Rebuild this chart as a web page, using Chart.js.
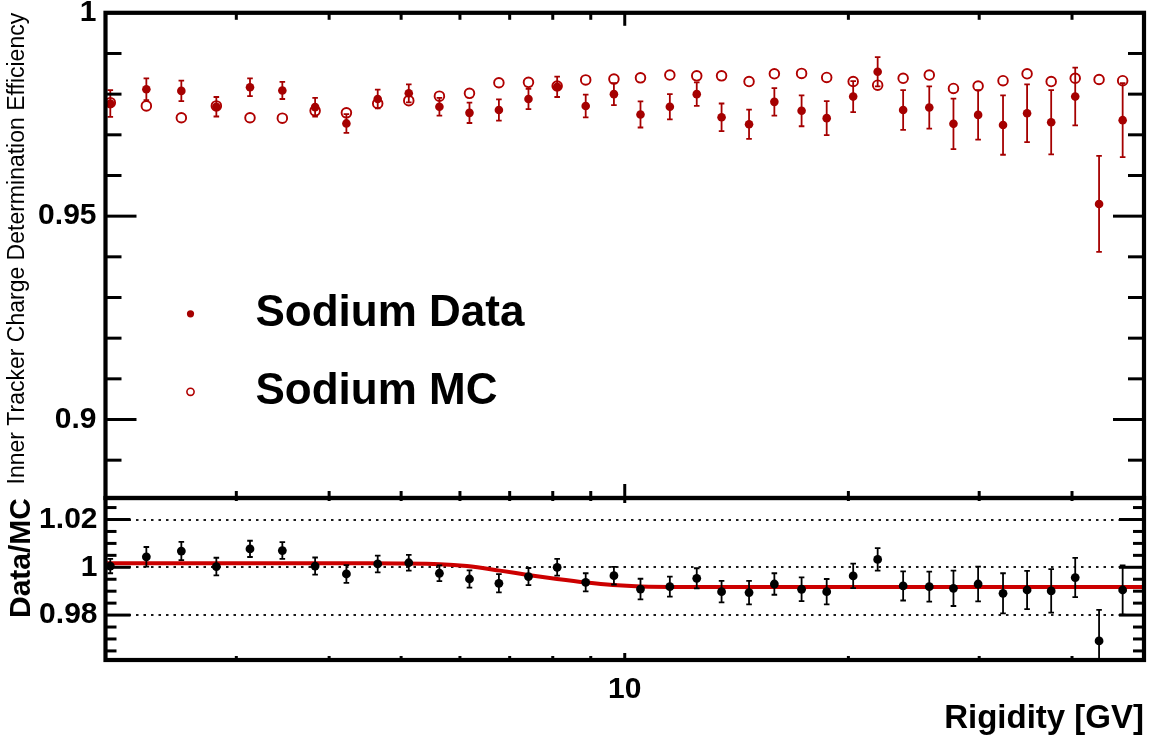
<!DOCTYPE html>
<html>
<head>
<meta charset="utf-8">
<title>Inner Tracker Charge Determination Efficiency</title>
<script src="https://cdn.jsdelivr.net/npm/chart.js@4.4.1/dist/chart.umd.min.js"></script>
<style>
  html, body { margin: 0; padding: 0; background: #fff; }
  #wrap { position: relative; width: 1151px; height: 742px; }
  #wrap canvas { position: absolute; left: 0; top: 0; }
</style>
</head>
<body>
<div id="wrap">
  <canvas id="ratioChart" width="1151" height="742"></canvas>
  <canvas id="effChart" width="1151" height="742"></canvas>
</div>
<script>
// Rigidity bin centres [GV]
const rigidity = [2.03, 2.27, 2.53, 2.82, 3.13, 3.46, 3.83, 4.22, 4.65, 5.12,
  5.63, 6.18, 6.77, 7.42, 8.11, 8.86, 9.67, 10.5, 11.5, 12.5,
  13.5, 14.7, 15.9, 17.3, 18.7, 20.3, 21.9, 23.7, 25.7, 27.7,
  29.9, 32.3, 34.8, 37.5, 40.4, 43.5, 46.8];

// Sodium data efficiency and its uncertainty
const dataEff = [0.9777, 0.9812, 0.9808, 0.9769, 0.9817, 0.9809, 0.9768, 0.9728, 0.9788, 0.9802,
  0.9769, 0.9754, 0.9761, 0.9788, 0.9818, 0.9771, 0.9800, 0.9750, 0.9769, 0.9800,
  0.9743, 0.9726, 0.9781, 0.9759, 0.9741, 0.9794, 0.9855, 0.9761, 0.9767, 0.9727,
  0.9749, 0.9724, 0.9753, 0.9731, 0.9794, 0.9530, 0.9736];
const dataErr = [0.0033, 0.0027, 0.0025, 0.0024, 0.0022, 0.0021, 0.0023, 0.0023, 0.0023, 0.0022,
  0.0022, 0.0025, 0.0026, 0.0025, 0.0025, 0.0028, 0.0027, 0.0032, 0.0031, 0.0029,
  0.0034, 0.0036, 0.0034, 0.0038, 0.0042, 0.0038, 0.0036, 0.0049, 0.0052, 0.0062,
  0.0061, 0.0073, 0.0071, 0.0079, 0.0071, 0.0118, 0.0091];

// Sodium MC efficiency
const mcEff = [0.9779, 0.9771, 0.9742, 0.9771, 0.9742, 0.9741, 0.9759, 0.9754, 0.9777, 0.9784,
  0.9795, 0.9802, 0.9828, 0.9829, 0.9820, 0.9835, 0.9837, 0.9840, 0.9847, 0.9845,
  0.9845, 0.9831, 0.9850, 0.9851, 0.9841, 0.9831, 0.9822, 0.9839, 0.9847, 0.9814,
  0.9820, 0.9833, 0.9850, 0.9831, 0.9839, 0.9836, 0.9833];

// Data/MC ratio and its uncertainty
const ratio = [1.0005, 1.0044, 1.0068, 1.0003, 1.0077, 1.0070, 1.0005, 0.9972, 1.0014, 1.0019,
  0.9975, 0.9951, 0.9933, 0.9961, 1.0000, 0.9937, 0.9965, 0.9909, 0.9919, 0.9954,
  0.9898, 0.9894, 0.9930, 0.9908, 0.9898, 0.9964, 1.0033, 0.9922, 0.9919, 0.9912,
  0.9930, 0.9891, 0.9905, 0.9901, 0.9957, 0.9692, 0.9905];
const ratioErr = [0.0030, 0.0041, 0.0038, 0.0037, 0.0034, 0.0035, 0.0036, 0.0037, 0.0035, 0.0033,
  0.0033, 0.0036, 0.0038, 0.0036, 0.0035, 0.0038, 0.0037, 0.0043, 0.0042, 0.0042,
  0.0045, 0.0049, 0.0045, 0.0050, 0.0053, 0.0051, 0.0047, 0.0061, 0.0063, 0.0074,
  0.0073, 0.0084, 0.0080, 0.0091, 0.0082, 0.0130, 0.0103];

// Fitted ratio curve
const fitRigidity = [2, 4.5, 5.64, 6.13, 6.79, 7.41, 8.11, 8.89, 9.64, 10.5, 12, 50];
const fitRatio = [1.0017, 1.0017, 1.0013, 1.0005, 0.9986, 0.9968, 0.9951, 0.9936, 0.9926, 0.9920, 0.9918, 0.9918];

// Axis tick labels
const effTicks = [0.9, 0.95, 1];
const effTickLabels = ['0.9', '0.95', '1'];
const ratioTicks = [0.98, 1, 1.02];
const ratioTickLabels = ['0.98', '1', '1.02'];
const rigidityTicks = [10];
const rigidityTickLabels = ['10'];
const seriesLabels = ['Sodium Data', 'Sodium MC'];

const FONT = '"Liberation Sans", Arial, Helvetica, sans-serif';
const DARK_RED = '#a50000';
const FIT_RED = '#cc0000';

const pts = (xs, ys) => xs.map((x, i) => ({ x, y: ys[i] }));

// minor tick values for the frame decoration
const effMinor = [];
for (let k = 89; k <= 99; k++) if (k % 5) effMinor.push(k / 100);
const ratioMinor = [];
for (let k = 193; k <= 205; k++) if (k % 4) ratioMinor.push(k / 200);
const rigMinor = [3, 4, 5, 6, 7, 8, 9, 20, 30, 40];

// vertical error bars with small end caps
const errorBars = {
  id: 'errorBars',
  beforeDatasetDraw(chart, args) {
    const ds = chart.data.datasets[args.index];
    if (!ds.errors) return;
    const { ctx, chartArea: a } = chart;
    const xs = chart.scales.x, ys = chart.scales.y;
    ctx.save();
    ctx.beginPath();
    ctx.rect(a.left, a.top, a.right - a.left, a.bottom - a.top);
    ctx.clip();
    ctx.strokeStyle = ds.borderColor;
    ctx.lineWidth = 1.8;
    const cap = 2.8;
    ds.data.forEach((p, i) => {
      const e = ds.errors[i];
      const px = xs.getPixelForValue(p.x);
      const y1 = ys.getPixelForValue(p.y - e);
      const y2 = ys.getPixelForValue(p.y + e);
      ctx.beginPath();
      ctx.moveTo(px, y1); ctx.lineTo(px, y2);
      ctx.moveTo(px - cap, y1); ctx.lineTo(px + cap, y1);
      ctx.moveTo(px - cap, y2); ctx.lineTo(px + cap, y2);
      ctx.stroke();
    });
    ctx.restore();
  }
};

// thick box frame with inward tick marks on all four sides
const frameTicks = {
  id: 'frameTicks',
  afterDraw(chart, args, o) {
    if (!o || !o.yMajor) return;
    const { ctx, chartArea: a, scales: { x, y } } = chart;
    ctx.save();
    ctx.strokeStyle = '#000';
    const seg = (x1, y1, x2, y2, w) => {
      ctx.lineWidth = w;
      ctx.beginPath(); ctx.moveTo(x1, y1); ctx.lineTo(x2, y2); ctx.stroke();
    };
    const yTick = (v, len) => {
      const p = y.getPixelForValue(v);
      seg(a.left, p, a.left + len, p, 3);
      seg(a.right, p, a.right - len, p, 3);
    };
    const xTick = (v, lenTop, lenBot) => {
      const p = x.getPixelForValue(v);
      seg(p, a.top, p, a.top + lenTop, 3);
      seg(p, a.bottom, p, a.bottom - lenBot, 3);
    };
    o.yMinor.forEach(v => yTick(v, o.yMinorLen));
    o.yMajor.forEach(v => yTick(v, o.yMajorLen));
    o.xMinor.forEach(v => xTick(v, o.xTopMinor, o.xBotMinor));
    o.xMajor.forEach(v => xTick(v, o.xTopMajor, o.xBotMajor));
    ctx.lineWidth = 4.2;
    ctx.strokeRect(a.left, a.top, a.right - a.left, a.bottom - a.top);
    ctx.restore();
  }
};

// in-frame legend drawn from the dataset styles
const markerLegend = {
  id: 'markerLegend',
  afterDraw(chart, args, o) {
    if (!o || !o.entries) return;
    const { ctx, chartArea: a } = chart;
    ctx.save();
    o.entries.forEach((idx, i) => {
      const ds = chart.data.datasets[idx];
      const cy = a.top + o.top + i * o.spacing;
      const mx = a.left + o.markerX;
      ctx.beginPath();
      ctx.arc(mx, cy, o.markerRadius, 0, Math.PI * 2);
      if (ds.pointBackgroundColor && ds.pointBackgroundColor !== 'rgba(0,0,0,0)') {
        ctx.fillStyle = ds.pointBackgroundColor;
        ctx.fill();
      } else {
        ctx.strokeStyle = ds.pointBorderColor;
        ctx.lineWidth = 1.6;
        ctx.stroke();
      }
      ctx.fillStyle = '#000';
      ctx.font = o.font;
      ctx.textBaseline = 'middle';
      ctx.textAlign = 'left';
      ctx.fillText(ds.label, a.left + o.textX, cy);
    });
    ctx.restore();
  }
};

Chart.register(errorBars, frameTicks, markerLegend);

const axisY = (width) => (s) => { s.width = width; s.paddingTop = 0; s.paddingBottom = 0; };

// Upper panel: efficiency
new Chart(document.getElementById('effChart'), {
  type: 'scatter',
  data: {
    datasets: [
      {
        label: seriesLabels[0],
        data: pts(rigidity, dataEff),
        errors: dataErr,
        pointRadius: 4.3,
        pointBackgroundColor: DARK_RED,
        pointBorderColor: DARK_RED,
        pointBorderWidth: 0,
        borderColor: DARK_RED,
        backgroundColor: DARK_RED
      },
      {
        label: seriesLabels[1],
        data: pts(rigidity, mcEff),
        pointRadius: 4.8,
        pointBackgroundColor: 'rgba(0,0,0,0)',
        pointBorderColor: '#b00000',
        pointBorderWidth: 1.9,
        borderColor: '#b00000',
        backgroundColor: 'rgba(0,0,0,0)'
      }
    ]
  },
  options: {
    responsive: false,
    animation: false,
    events: [],
    layout: { padding: { left: 0, top: 12.8, right: 7, bottom: 244 } },
    scales: {
      x: { type: 'logarithmic', min: 2, max: 50, display: false },
      y: {
        type: 'linear', min: 0.8807, max: 1.0,
        afterBuildTicks: s => { s.ticks = effTicks.map(v => ({ value: v })); },
        afterFit: axisY(105.5),
        grid: { display: false, drawTicks: false },
        border: { display: false },
        ticks: {
          padding: 9,
          color: '#000',
          font: { family: FONT, size: 30, weight: 'bold', lineHeight: 1 },
          callback: (v, i) => effTickLabels[i]
        },
        title: {
          display: true,
          text: 'Inner Tracker Charge Determination Efficiency',
          align: 'end',
          color: '#000',
          font: { family: FONT, size: 23, weight: 'normal', lineHeight: 1 },
          padding: { top: 6, bottom: 0 }
        }
      }
    },
    plugins: {
      legend: { display: false },
      tooltip: { enabled: false },
      frameTicks: {
        yMinor: effMinor, yMajor: [0.9, 0.95], yMinorLen: 16, yMajorLen: 31,
        xMinor: rigMinor, xMajor: rigidityTicks,
        xTopMinor: 7, xTopMajor: 13, xBotMinor: 7, xBotMajor: 14
      },
      markerLegend: {
        entries: [0, 1], top: 301, spacing: 78, markerX: 85, textX: 150,
        markerRadius: 3.6,
        font: 'bold 44px ' + FONT
      }
    }
  }
});

// Lower panel: Data/MC ratio with fit
new Chart(document.getElementById('ratioChart'), {
  type: 'scatter',
  data: {
    datasets: [
      {
        label: 'Data/MC',
        data: pts(rigidity, ratio),
        errors: ratioErr,
        pointRadius: 4.4,
        pointBackgroundColor: '#000',
        pointBorderColor: '#000',
        pointBorderWidth: 0,
        borderColor: '#000',
        backgroundColor: '#000'
      },
      {
        type: 'line',
        label: 'fit',
        data: pts(fitRigidity, fitRatio),
        borderColor: FIT_RED,
        borderWidth: 4,
        pointRadius: 0,
        fill: false,
        cubicInterpolationMode: 'monotone'
      }
    ]
  },
  options: {
    responsive: false,
    animation: false,
    events: [],
    layout: { padding: { left: 0, top: 498, right: 7, bottom: 0 } },
    scales: {
      x: {
        type: 'logarithmic', min: 2, max: 50,
        afterBuildTicks: s => { s.ticks = rigidityTicks.map(v => ({ value: v })); },
        afterFit: s => { s.height = 82; s.paddingLeft = 0; s.paddingRight = 0; },
        grid: { display: false, drawTicks: false },
        border: { display: false },
        ticks: {
          padding: 15,
          autoSkip: false,
          maxRotation: 0,
          color: '#000',
          font: { family: FONT, size: 30, weight: 'bold', lineHeight: 1 },
          callback: (v, i) => rigidityTickLabels[i]
        },
        title: {
          display: true,
          text: 'Rigidity [GV]',
          align: 'end',
          color: '#000',
          font: { family: FONT, size: 33, weight: 'bold', lineHeight: 1 },
          padding: { top: 0, bottom: 7 }
        }
      },
      y: {
        type: 'linear', min: 0.9612, max: 1.029,
        afterBuildTicks: s => { s.ticks = ratioTicks.map(v => ({ value: v })); },
        afterFit: axisY(105.5),
        grid: { display: true, drawTicks: false, color: '#1a1a1a', lineWidth: 2 },
        border: { display: false, dash: [2.5, 5] },
        ticks: {
          padding: 8,
          color: '#000',
          font: { family: FONT, size: 30, weight: 'bold', lineHeight: 1 },
          callback: (v, i) => ratioTickLabels[i]
        },
        title: {
          display: true,
          text: 'Data/MC',
          align: 'end',
          color: '#000',
          font: { family: FONT, size: 30, weight: 'bold', lineHeight: 1 },
          padding: { top: 7, bottom: 0 }
        }
      }
    },
    plugins: {
      legend: { display: false },
      tooltip: { enabled: false },
      frameTicks: {
        yMinor: ratioMinor, yMajor: ratioTicks, yMinorLen: 11, yMajorLen: 25,
        xMinor: rigMinor, xMajor: rigidityTicks,
        xTopMinor: 3, xTopMajor: 5, xBotMinor: 4, xBotMajor: 7
      }
    }
  }
});
</script>
</body>
</html>
